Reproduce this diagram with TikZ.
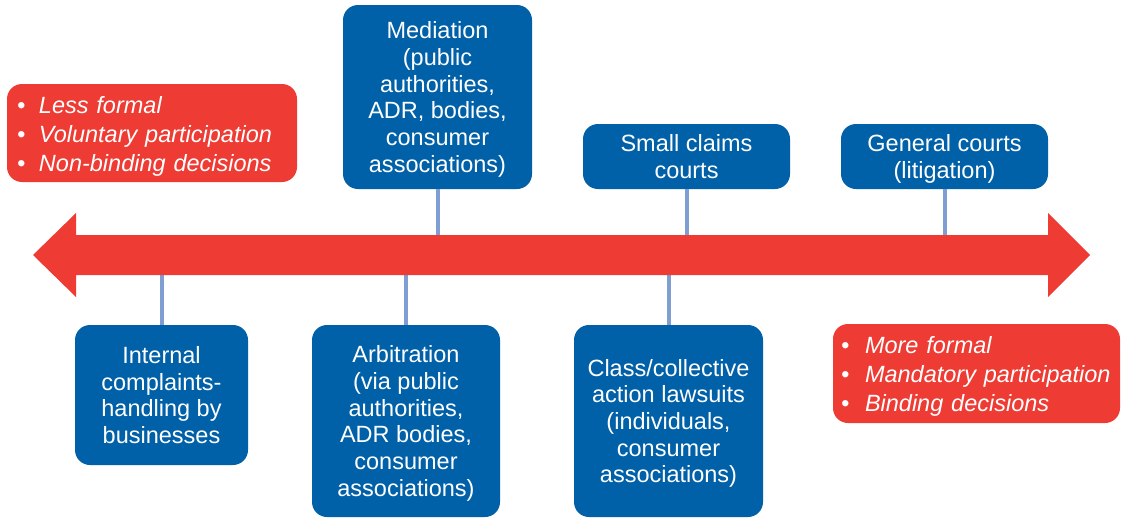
\documentclass[tikz,border=0pt]{standalone}
\usepackage{fontspec}
\setmainfont{Liberation Sans}
\definecolor{boxblue}{RGB}{0,96,168}
\definecolor{arrowred}{RGB}{238,59,51}
\definecolor{linkblue}{RGB}{127,158,210}

\begin{document}
\begin{tikzpicture}[x=1pt,y=-1pt,
        stage/.style={fill=boxblue, text=white, rounded corners=15pt, align=center,
            inner sep=0pt, text depth=0pt, font=\fontsize{23.5}{26.7}\selectfont},
        note/.style={fill=arrowred, text=white, rounded corners=15pt, align=left,
            inner xsep=10pt, inner ysep=0pt,
            font=\fontsize{23.5}{29}\selectfont\itshape},
        link/.style={draw=linkblue, line width=4pt}]
        \useasboundingbox (0,0) rectangle (1121,517);
        % stages above the line
        \node[stage, minimum width=189, minimum height=184] (med) at (437.5,97)
            {Mediation\\(public\\authorities,\\ADR, bodies,\\consumer\\associations)};
        \node[stage, minimum width=207, minimum height=65] (small) at (686.5,156.5)
            {Small claims\\courts};
        \node[stage, minimum width=207, minimum height=65] (gen) at (944.5,156.5)
            {General courts\\(litigation)};
        % stages below the line
        \node[stage, minimum width=173, minimum height=140] (intl) at (161.5,395)
            {Internal\\complaints-\\handling by\\businesses};
        \node[stage, minimum width=188, minimum height=192] (arb) at (406,421)
            {Arbitration\\(via public\\authorities,\\ADR bodies,\\consumer\\associations)};
        \node[stage, minimum width=189, minimum height=192] (cls) at (668.5,421)
            {Class/collective\\action lawsuits\\(individuals,\\consumer\\associations)};
        % notes at both ends
        \node[note, text width=270, minimum height=98] (less) at (152,133)
            {\rule{0pt}{23pt}\makebox[22pt][l]{•}Less formal\\\makebox[22pt][l]{•}Voluntary participation\\\makebox[22pt][l]{•}Non-binding decisions};
        \node[note, inner xsep=8pt, text width=271, minimum height=99] (more) at (976.5,373.5)
            {\rule{0pt}{23pt}\makebox[24pt][l]{•}More formal\\\makebox[24pt][l]{•}Mandatory participation\\\makebox[24pt][l]{•}Binding decisions};
        \coordinate (top) at (0,240);
        \coordinate (bot) at (0,270);
        \foreach \n in {med,small,gen} {
            \draw[link] (\n.south) -- (\n.south |- top);
        }
        \foreach \n in {intl,arb,cls} {
            \draw[link] (\n.north) -- (\n.north |- bot);
        }
        % the double arrow
        \fill[arrowred] (33,255) -- (76,213) -- (76,235) -- (1048,235) -- (1048,213)
            -- (1090,255) -- (1048,297) -- (1048,275) -- (76,275) -- (76,297) -- cycle;
\end{tikzpicture}
\end{document}
